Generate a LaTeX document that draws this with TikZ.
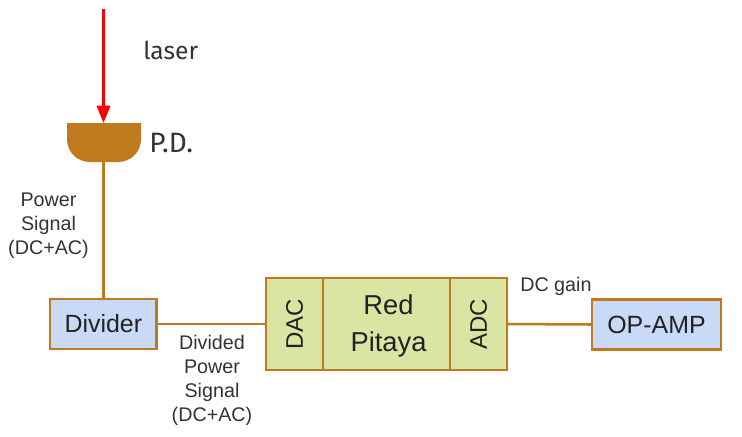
\documentclass[tikz,border=0pt]{standalone}
\usepackage{fontspec}
\setmainfont{Liberation Sans}
\newfontfamily\lab{Fira Sans}
\usetikzlibrary{arrows.meta}
\definecolor{brn}{HTML}{BF7A1E}
\definecolor{blu}{HTML}{C9DAF8}
\definecolor{grn}{HTML}{D9E6A3}
\definecolor{txt}{HTML}{222222}
\definecolor{capc}{HTML}{333333}
\tikzset{
 blk/.style={draw=brn,line width=2.1pt,outer sep=0pt,inner sep=0pt,text=txt,align=center,anchor=north west},
 bluebox/.style={blk,fill=blu,font=\fontsize{18.7}{22}\selectfont},
 greenbox/.style={blk,fill=grn,font=\fontsize{18}{22}\selectfont},
 wire/.style={draw=brn,line width=1.9pt},
 captext/.style={text=capc,align=center,font=\fontsize{14.8}{18}\selectfont},
 bigcap/.style={text=capc,font=\lab\fontsize{18.5}{20}\selectfont,inner sep=0pt},
}
\begin{document}
\begin{tikzpicture}[x=0.75pt,y=-0.75pt]
\useasboundingbox (0,0) rectangle (742,436);
\node[bluebox,minimum width=80pt,minimum height=37.5pt] (div) at (50,299) {Divider};
\node[greenbox,minimum width=95.25pt,minimum height=69pt] (rp) at (323,278) {};
\node[text=txt,align=center,font=\fontsize{20.5}{27.7}\selectfont] (rpt) at ([xshift=1.5pt,yshift=-1.5pt]rp.center) {Red\\Pitaya};
\node[greenbox,minimum width=42.75pt,minimum height=69pt] (dac) at (266,278) {};
\node[rotate=90,text=txt,font=\fontsize{18}{22}\selectfont] (dact) at (dac.center) {DAC};
\node[greenbox,minimum width=42.75pt,minimum height=69pt] (adc) at (450,278) {};
\node[rotate=90,text=txt,font=\fontsize{18}{22}\selectfont] (adct) at (adc.center) {ADC};
\node[bluebox,minimum width=96.75pt,minimum height=37.5pt] (op) at (592,299.5) {OP-AMP};
\fill[brn] (67,123) -- (141,123) -- (141,139)
  .. controls (141,152) and (131,162) .. (118,162) -- (90,162)
  .. controls (77,162) and (67,152) .. (67,139) -- cycle;
\coordinate (pdt) at (103.5,123);
\coordinate (pdb) at (103.5,162);
\coordinate (las) at (103.5,9);
\draw[wire] (pdb) -- (pdb |- div.north);
\draw[wire] (div.east) -- (dac.west);
\draw[wire] (adc.east) -- (op.west);
\draw[draw=red,line width=2.1pt,-{Triangle[length=13pt,width=10pt]}] (las) -- (pdt);
\node[bigcap,anchor=base west] (lt) at (143,59) {laser};
\node[bigcap,anchor=base west,font=\lab\fontsize{21}{22}\selectfont] (pt) at (149,152) {P.D.};
\node[captext] (c1) at (48.5,226) {Power\\Signal\\(DC+AC)};
\node[captext] (c2) at (212,380) {Divided\\Power\\Signal\\(DC+AC)};
\node[captext,anchor=base west,inner sep=0pt] (c3) at (520,291) {DC gain};
\end{tikzpicture}
\end{document}
